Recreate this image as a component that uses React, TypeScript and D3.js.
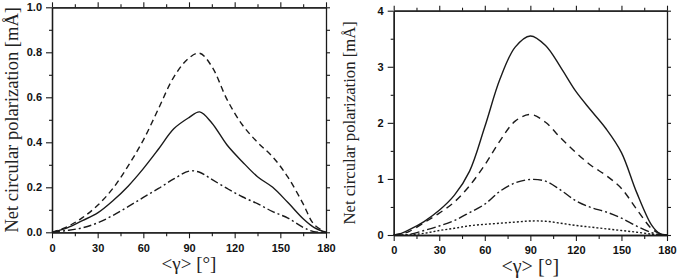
import { useEffect, useRef } from 'react'
import * as d3 from 'd3'

// Left panel: angle grid and the three curves (mÅ)
const LEFT_ANGLES = [0, 10, 20, 30, 40, 50, 60, 70, 80, 90, 97, 105, 115, 125, 135, 145, 155, 165, 172, 180]
const LEFT_DASHED = [0, 0.025, 0.065, 0.12, 0.195, 0.295, 0.41, 0.55, 0.69, 0.775, 0.796, 0.737, 0.59, 0.478, 0.4, 0.335, 0.245, 0.126, 0.036, 0]
const LEFT_SOLID = [0, 0.02, 0.052, 0.086, 0.14, 0.205, 0.283, 0.37, 0.46, 0.51, 0.535, 0.486, 0.388, 0.314, 0.247, 0.2, 0.132, 0.06, 0.022, 0]
const LEFT_DASHDOT = [0, 0.008, 0.02, 0.042, 0.075, 0.114, 0.155, 0.195, 0.237, 0.272, 0.267, 0.235, 0.195, 0.158, 0.127, 0.092, 0.063, 0.022, 0.003, 0]

// Right panel
const RIGHT_ANGLES = [0, 5, 10, 20, 30, 40, 50, 60, 70, 80, 90, 100, 110, 120, 130, 140, 150, 160, 170, 175, 180]
const RIGHT_SOLID = [0, 0.03, 0.09, 0.24, 0.44, 0.71, 1.14, 1.93, 2.78, 3.35, 3.55, 3.38, 2.99, 2.56, 2.22, 1.89, 1.47, 0.76, 0.17, 0.03, 0]
const RIGHT_DASHED = [0, 0.02, 0.06, 0.22, 0.39, 0.59, 0.88, 1.25, 1.68, 2.03, 2.15, 2.01, 1.73, 1.47, 1.24, 1.06, 0.83, 0.46, 0.11, 0.03, 0]
const RIGHT_DASHDOT = [0, 0, 0.01, 0.08, 0.16, 0.26, 0.4, 0.55, 0.78, 0.93, 0.99, 0.96, 0.8, 0.61, 0.49, 0.41, 0.3, 0.16, 0.04, 0.01, 0]
const RIGHT_DOTTED = [0, 0, 0, 0.03, 0.08, 0.12, 0.165, 0.19, 0.21, 0.23, 0.25, 0.245, 0.21, 0.17, 0.14, 0.11, 0.08, 0.05, 0.015, 0, 0]

const X_TICKS = [0, 30, 60, 90, 120, 150, 180]
const X_MINOR = [15, 45, 75, 105, 135, 165]
const LEFT_Y_TICKS = [0, 0.2, 0.4, 0.6, 0.8, 1.0]
const LEFT_Y_MINOR = [0.1, 0.3, 0.5, 0.7, 0.9]
const RIGHT_Y_TICKS = [0, 1, 2, 3, 4]
const RIGHT_Y_MINOR = [0.5, 1.5, 2.5, 3.5]

const INK = '#1a1a1a'
const SANS = '"Liberation Sans", Arial, sans-serif'
const SERIF = '"Liberation Serif", "Times New Roman", serif'

type Series = { values: number[]; dash: string | null }

function Panel({ x0, x1, y0, y1, yMax, yTicks, yMinor, yFmt, angles, series, yLabelX, yLabelSize, xLabelSize, xPad }: {
  x0: number; x1: number; y0: number; y1: number; yMax: number
  yTicks: number[]; yMinor: number[]; yFmt: (d: number) => string
  angles: number[]; series: Series[]
  yLabelX: number; yLabelSize: number; xLabelSize: number; xPad: number
}) {
  const gRef = useRef<SVGGElement>(null)

  useEffect(() => {
    const g = d3.select(gRef.current)
    g.selectAll('*').remove()

    const x = d3.scaleLinear().domain([0, 180]).range([x0, x1])
    const y = d3.scaleLinear().domain([0, yMax]).range([y1, y0])

    const style = (ax: any, labels: boolean) => {
      ax.select('.domain').attr('stroke', INK).attr('stroke-width', 1.3)
      ax.selectAll('line').attr('stroke', INK).attr('stroke-width', 1.1)
      if (labels) ax.selectAll('text').attr('fill', '#111').attr('font-family', SANS).attr('font-weight', 'bold').attr('font-size', 11)
    }
    const allY = [...yTicks, ...yMinor]

    // minor ticks first, then major ticks with labels
    g.append('g').attr('transform', `translate(0,${y1})`)
      .call(d3.axisBottom(x).tickValues(X_MINOR).tickSize(4).tickSizeOuter(0).tickFormat(() => ''))
      .call((ax) => style(ax, false))
    g.append('g').attr('transform', `translate(0,${y1})`)
      .call(d3.axisBottom(x).tickValues(X_TICKS).tickSize(6).tickPadding(xPad).tickSizeOuter(0).tickFormat(d3.format('d')))
      .call((ax) => style(ax, true))

    g.append('g').attr('transform', `translate(0,${y0})`)
      .call(d3.axisTop(x).tickValues(X_MINOR).tickSize(3).tickSizeOuter(0).tickFormat(() => ''))
      .call((ax) => style(ax, false))
    g.append('g').attr('transform', `translate(0,${y0})`)
      .call(d3.axisTop(x).tickValues(X_TICKS).tickSize(5).tickSizeOuter(0).tickFormat(() => ''))
      .call((ax) => style(ax, false))

    g.append('g').attr('transform', `translate(${x0},0)`)
      .call(d3.axisLeft(y).tickValues(yMinor).tickSize(3).tickSizeOuter(0).tickFormat(() => ''))
      .call((ax) => style(ax, false))
    g.append('g').attr('transform', `translate(${x0},0)`)
      .call(d3.axisLeft(y).tickValues(yTicks).tickSize(6).tickPadding(4).tickSizeOuter(0).tickFormat(yFmt as any))
      .call((ax) => style(ax, true))

    g.append('g').attr('transform', `translate(${x1},0)`)
      .call(d3.axisRight(y).tickValues(allY).tickSize(4).tickSizeOuter(0).tickFormat(() => ''))
      .call((ax) => style(ax, false))

    const line = d3.line<number>()
      .x((_, i) => x(angles[i]))
      .y((d) => y(d))
      .curve(d3.curveCatmullRom.alpha(0.5))

    series.forEach((s) => {
      g.append('path')
        .attr('d', line(s.values))
        .attr('fill', 'none')
        .attr('stroke', INK)
        .attr('stroke-width', 1.4)
        .attr('stroke-dasharray', s.dash)
    })

    const cy = (y0 + y1) / 2
    g.append('text')
      .attr('transform', `translate(${yLabelX},${cy}) rotate(-90)`)
      .attr('text-anchor', 'middle')
      .attr('font-family', SERIF)
      .attr('font-size', yLabelSize)
      .attr('fill', '#222')
      .text('Net circular polarization [mÅ]')

    g.append('text')
      .attr('x', (x0 + x1) / 2)
      .attr('y', y1 + 38)
      .attr('text-anchor', 'middle')
      .attr('font-family', SERIF)
      .attr('font-size', xLabelSize)
      .attr('fill', '#222')
      .text('<γ> [°]')
  }, [])

  return <g ref={gRef} />
}

export default function App() {
  return (
    <svg width={677} height={279} style={{ position: 'absolute', left: 0, top: 0, background: '#fff' }}>
      <Panel
        x0={52} x1={326} y0={7.3} y1={232.3} yMax={1}
        yTicks={LEFT_Y_TICKS} yMinor={LEFT_Y_MINOR} yFmt={d3.format('.1f')}
        angles={LEFT_ANGLES}
        series={[
          { values: LEFT_DASHED, dash: '6,4' },
          { values: LEFT_SOLID, dash: null },
          { values: LEFT_DASHDOT, dash: '8,3,2,3' },
        ]}
        yLabelX={17.5} yLabelSize={18.5} xLabelSize={19} xPad={6}
      />
      <Panel
        x0={393.7} x1={667} y0={10.7} y1={235} yMax={4}
        yTicks={RIGHT_Y_TICKS} yMinor={RIGHT_Y_MINOR} yFmt={d3.format('d')}
        angles={RIGHT_ANGLES}
        series={[
          { values: RIGHT_SOLID, dash: null },
          { values: RIGHT_DASHED, dash: '7,5' },
          { values: RIGHT_DASHDOT, dash: '9,3,2,3' },
          { values: RIGHT_DOTTED, dash: '2,2' },
        ]}
        yLabelX={355} yLabelSize={16.7} xLabelSize={20} xPad={5}
      />
    </svg>
  )
}
